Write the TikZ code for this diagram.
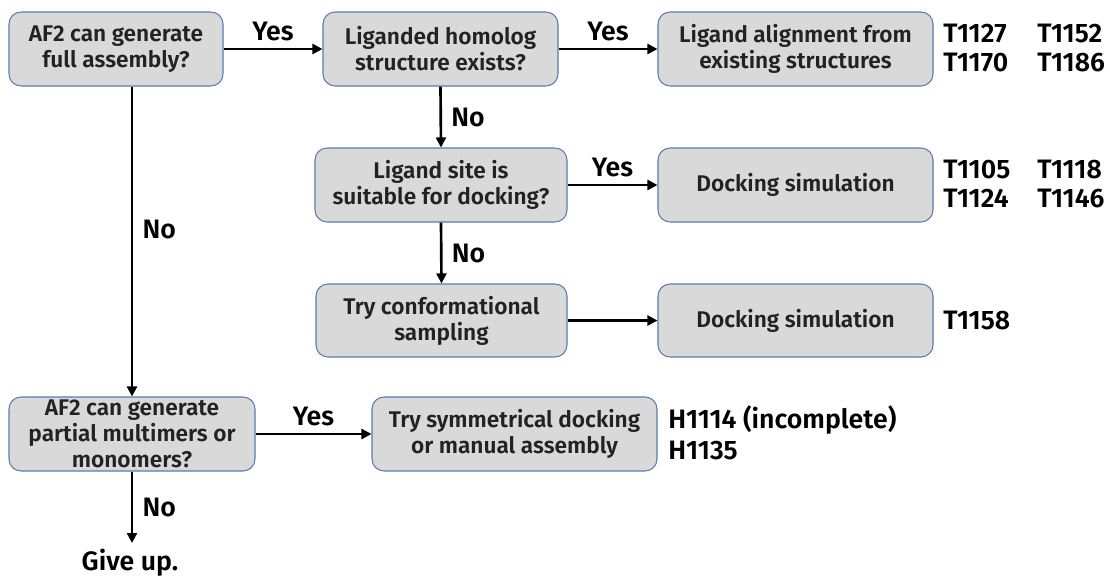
\documentclass[tikz,border=0pt]{standalone}
\usepackage{fontspec}
\setmainfont{Fira Sans}[UprightFont=* SemiBold]
\usetikzlibrary{arrows.meta}
\definecolor{boxfill}{HTML}{D9D9D9}
\definecolor{boxedge}{HTML}{5A7AB0}
\definecolor{boxtext}{HTML}{222222}
\begin{document}
\begin{tikzpicture}[x=0.75pt,y=-0.75pt,
  flowbox/.style={draw=boxedge, line width=0.8pt, fill=boxfill, rounded corners=9pt,
    align=center, text=boxtext, font=\fontsize{17}{19.5}\selectfont, inner sep=0pt,
    minimum height=55.5pt},
  tag/.style={font=\fontsize{20}{22}\selectfont, inner sep=0pt, text=black},
  flow/.style={line width=2pt, -{Triangle[length=7.5pt,width=7.5pt]}},
]
\useasboundingbox (0,0) rectangle (1110,578);

% decision and action boxes
\node[flowbox, minimum width=160.5pt] (b1) at (116,49) {AF2 can generate\\full assembly?};
\node[flowbox, minimum width=176.25pt] (b2) at (440.5,49) {Liganded homolog\\structure exists?};
\node[flowbox, minimum width=206.25pt] (b3) at (795.5,49) {Ligand alignment from\\existing structures};
\node[flowbox, minimum width=189pt] (b4) at (441,185) {Ligand site is\\suitable for docking?};
\node[flowbox, minimum width=206.25pt] (b5) at (795.5,185) {Docking simulation};
\node[flowbox, minimum width=188.25pt, minimum height=54.75pt] (b6) at (441.5,320.5) {Try conformational\\sampling};
\node[flowbox, minimum width=206.25pt, minimum height=54.75pt] (b7) at (795.5,320.5) {Docking simulation};
\node[flowbox, minimum width=184.5pt] (b8) at (132,434) {AF2 can generate\\partial multimers or\\monomers?};
\node[flowbox, minimum width=213.75pt] (b9) at (514.5,434) {Try symmetrical docking\\or manual assembly};

% target lists
\node[tag, anchor=west] (t1127) at (943,33) {T1127};
\node[tag, anchor=west] (t1152) at (1037,33) {T1152};
\node[tag, anchor=west] (t1170) at (943,62) {T1170};
\node[tag, anchor=west] (t1186) at (1037,62) {T1186};
\node[tag, anchor=west] (t1105) at (943,169) {T1105};
\node[tag, anchor=west] (t1118) at (1037,169) {T1118};
\node[tag, anchor=west] (t1124) at (943,198) {T1124};
\node[tag, anchor=west] (t1146) at (1037,198) {T1146};
\node[tag, anchor=west] (t1158) at (943,320) {T1158};
\node[tag, anchor=west] (h1114) at (668,420) {H1114 (incomplete)};
\node[tag, anchor=west] (h1135) at (668,450) {H1135};

% end point
\node[tag, anchor=base] (giveup) at (130,570) {Give up.};
\coordinate (stop) at (132,543);

% connectors
\draw[flow] (b1.east) -- (b2.west) node[tag, midway, above=5pt] {Yes};
\draw[flow] (b2.east) -- (b3.west) node[tag, midway, above=5pt] {Yes};
\draw[flow] (b2.south) -- (b4.north) node[tag, midway, right=7pt] {No};
\draw[flow] (b4.east) -- (b5.west) node[tag, midway, above=5pt] {Yes};
\draw[flow] (b4.south) -- (b6.north) node[tag, midway, right=7pt] {No};
\draw[flow] (b6.east) -- (b7.west);
\draw[flow] (b1.south -| b8.north) -- (b8.north) node[tag, pos=0.46, right=7pt] {No};
\draw[flow] (b8.east) -- (b9.west) node[tag, midway, above=5pt] {Yes};
\draw[flow] (b8.south) -- (stop) node[tag, midway, right=7pt] {No};
\end{tikzpicture}
\end{document}
